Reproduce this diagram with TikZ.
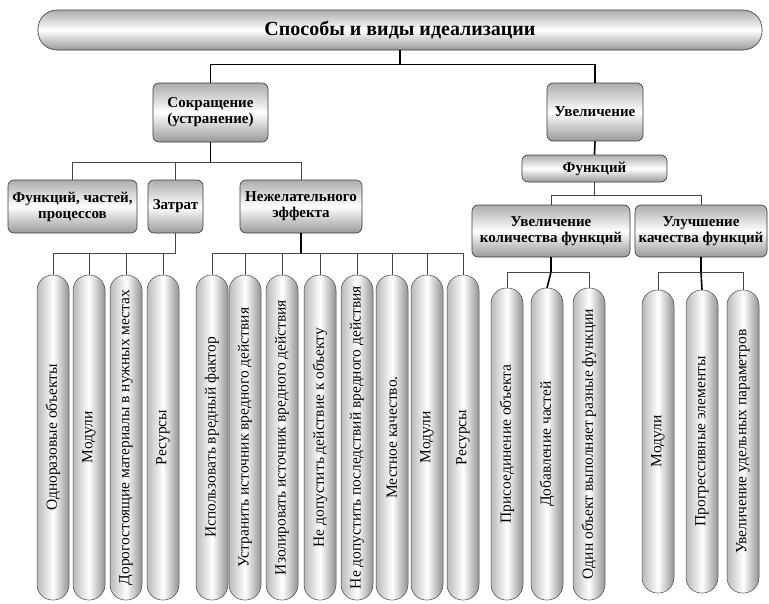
\documentclass[tikz,border=0pt]{standalone}
\usepackage{fontspec}
\setmainfont{Liberation Serif}

\begin{document}
\begin{tikzpicture}[x=1pt,y=-1pt,
  box/.style={draw=gray!45!black,line width=.6pt,rounded corners=6pt,top color=gray!65,bottom color=gray!80,middle color=white,align=center,inner sep=0pt,font=\fontsize{15}{16}\selectfont\bfseries},
  pillar/.style={draw=gray!55!black,line width=.5pt,rotate=90,minimum height=32pt,inner sep=0pt,rounded corners=15.5pt,left color=gray!55,right color=gray!85,middle color=white,font=\fontsize{15.5}{16}\selectfont},
  trunk/.style={line width=1.6pt},
  branch/.style={line width=.8pt,gray!55!black}]
\useasboundingbox (0,0) rectangle (769,603);
% upper boxes
\node[box,minimum width=724pt,minimum height=40pt,rounded corners=19pt,font=\fontsize{20}{20}\selectfont\bfseries] (title) at (400,30) {Способы и виды идеализации};
\node[box,minimum width=115pt,minimum height=59pt] (sokr) at (210.5,112.5) {Сокращение\\(устранение)};
\node[box,minimum width=96pt,minimum height=58pt] (uvel) at (595,112) {Увеличение};
\node[box,minimum width=129pt,minimum height=53pt] (fcp) at (72.5,206.5) {Функций, частей,\\процессов};
\node[box,minimum width=55pt,minimum height=53pt] (zatr) at (175.5,206.5) {Затрат};
\node[box,minimum width=122pt,minimum height=53pt] (nezh) at (301,206.5) {Нежелательного\\эффекта};
\node[box,minimum width=145pt,minimum height=27pt] (funk) at (594.5,168.5) {Функций};
\node[box,minimum width=158pt,minimum height=52pt] (uk) at (551,231) {Увеличение\\количества функций};
\node[box,minimum width=132pt,minimum height=52pt] (ka) at (701,231) {Улучшение\\качества функций};
% pillars
\node[pillar,minimum width=325pt] (z1) at (53,437.5) {Одноразовые объекты};
\node[pillar,minimum width=325pt] (z2) at (89,437.5) {Модули};
\node[pillar,minimum width=325pt] (z3) at (126,437.5) {Дорогостоящие материалы в нужных местах};
\node[pillar,minimum width=325pt] (z4) at (163,437.5) {Ресурсы};
\node[pillar,minimum width=325pt] (n1) at (212,437.5) {Использовать вредный фактор};
\node[pillar,minimum width=325pt] (n2) at (245,437.5) {Устранить источник вредного действия};
\node[pillar,minimum width=325pt] (n3) at (282,437.5) {Изолировать источник вредного действия};
\node[pillar,minimum width=325pt] (n4) at (320,437.5) {Не допустить действие к объекту};
\node[pillar,minimum width=325pt] (n5) at (357,437.5) {Не допустить последствий вредного действия};
\node[pillar,minimum width=325pt] (n6) at (392,437.5) {Местное качество.};
\node[pillar,minimum width=325pt] (n7) at (427,437.5) {Модули};
\node[pillar,minimum width=325pt] (n8) at (463,437.5) {Ресурсы};
\node[pillar,minimum width=312pt] (u1) at (507,444) {Присоединение объекта};
\node[pillar,minimum width=312pt] (u2) at (547,444) {Добавление частей};
\node[pillar,minimum width=312pt] (u3) at (589,444) {Один объект выполняет разные функции};
\node[pillar,minimum width=303pt] (k1) at (658,441.5) {Модули};
\node[pillar,minimum width=303pt] (k2) at (702,441.5) {Прогрессивные элементы};
\node[pillar,minimum width=303pt] (k3) at (743,441.5) {Увеличение удельных параметров};
% connectors
\draw[trunk] (title.south) -- ++(0,14) coordinate (tbus);
\draw[trunk] (tbus) -| (sokr.north);
\draw[trunk] (tbus) -| (uvel.north);
\draw[trunk] (sokr.south) -- ++(0,20) coordinate (sbus);
\draw[branch] (sbus) -| (fcp.north);
\draw[branch] (sbus) -| (zatr.north);
\draw[branch] (sbus) -| (nezh.north);
\draw[branch] (zatr.south) -- ++(0,20) coordinate (zbus);
\draw[branch] (zbus) -| (z1.east);
\draw[branch] (zbus) -| (z2.east);
\draw[branch] (zbus) -| (z3.east);
\draw[branch] (zbus) -| (z4.east);
\draw[trunk] (nezh.south) -- ++(0,20) coordinate (nbus);
\draw[branch] (nbus) -| (n1.east);
\draw[branch] (nbus) -| (n2.east);
\draw[branch] (nbus) -| (n3.east);
\draw[branch] (nbus) -| (n4.east);
\draw[branch] (nbus) -| (n5.east);
\draw[branch] (nbus) -| (n6.east);
\draw[branch] (nbus) -| (n7.east);
\draw[branch] (nbus) -| (n8.east);
\draw[trunk] (uvel.south) -- (funk.north);
\draw[branch] (funk.south) -- ++(0,13) coordinate (fbus);
\draw[branch] (fbus) -| (uk.north);
\draw[branch] (fbus) -| (ka.north);
\draw[trunk] (uk.south) -- ++(0,15) coordinate (ubus);
\draw[branch] (ubus) -| (u1.east);
\draw[trunk] (ubus) -- (u2.east);
\draw[branch] (ubus) -| (u3.east);
\draw[trunk] (ka.south) -- ++(0,15) coordinate (kbus);
\draw[branch] (kbus) -| (k1.east);
\draw[trunk] (kbus) -- (k2.east);
\draw[branch] (kbus) -| (k3.east);
\end{tikzpicture}
\end{document}
